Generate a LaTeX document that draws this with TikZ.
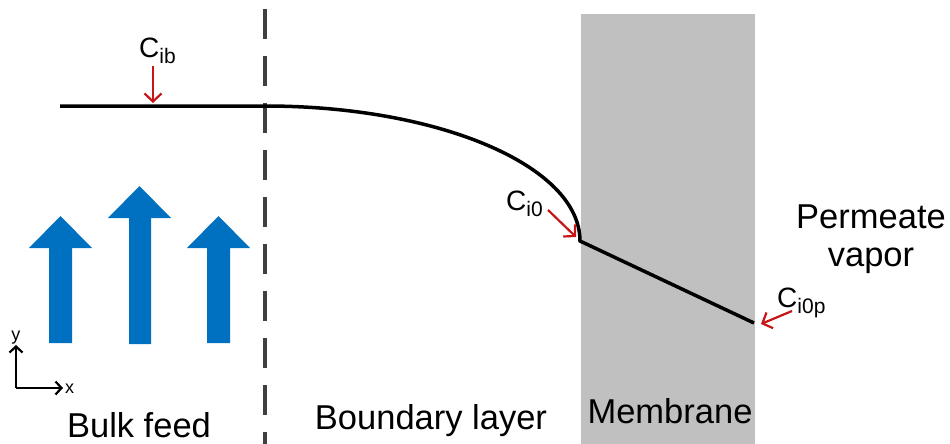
\documentclass[tikz,border=0pt]{standalone}
\usepackage{fontspec}
\setmainfont{Liberation Sans}
\usetikzlibrary{arrows.meta}
\definecolor{flowblue}{RGB}{0,112,192}
\definecolor{memgray}{RGB}{192,192,192}
\definecolor{dashgray}{RGB}{64,64,64}
\definecolor{lblred}{RGB}{200,20,20}
\tikzset{
  bigtext/.style={font=\fontsize{34.5}{40}\selectfont, inner sep=0pt},
  conclabel/.style={font=\fontsize{28}{30}\selectfont, inner sep=0pt, anchor=base west},
  redarrow/.style={draw=lblred, line width=2.2pt, -{Straight Barb[length=8pt,width=17pt,line width=2.2pt]}},
  flowarrow/.style={fill=flowblue, draw=none},
  profile/.style={line width=3.5pt, line join=miter},
  axisline/.style={line width=2.2pt, -{Straight Barb[length=6pt,width=13pt,line width=2.2pt]}},
}
\newcommand{\conc}[1]{C\raisebox{-6pt}{\fontsize{21}{21}\selectfont #1}}
\begin{document}
\begin{tikzpicture}[x=1pt,y=-1pt]
\useasboundingbox (0,0) rectangle (950,444);
% membrane
\fill[memgray] (581,14) rectangle (755,444);
% dashed separator
\draw[dashgray, line width=3.5pt, dash pattern=on 30pt off 17pt] (265,9) -- (265,444);
% blue flow arrows
\fill[flowblue] (49,343) -- (49,248) -- (29,248) -- (60.5,216) -- (92,248) -- (72,248) -- (72,343) -- cycle;
\fill[flowblue] (129,344) -- (129,218) -- (108,218) -- (139.5,186) -- (171,218) -- (151,218) -- (151,344) -- cycle;
\fill[flowblue] (207,343) -- (207,248) -- (187,248) -- (218.5,216) -- (250,248) -- (230,248) -- (230,343) -- cycle;
% concentration profile
\coordinate (p0) at (60,106);
\coordinate (p1) at (265,106);
\coordinate (p2) at (580,241);
\coordinate (p3) at (754,323);
\draw[profile] (p0) -- (p1) .. controls (439,106) and (580,166) .. (p2) -- (p3);
% labels with red arrows
\node[conclabel] (cib) at (139,57) {\conc{ib}};
\coordinate (cibend) at (153,103);
\draw[redarrow] (153,66) -- (cibend);
\node[conclabel] (ci0) at (506,210) {\conc{i0}};
\coordinate (ci0end) at (576,237);
\draw[redarrow] (548,210) -- (ci0end);
\node[conclabel] (ci0p) at (777,307) {\conc{i0p}};
\coordinate (ci0pend) at (761,324);
\draw[redarrow] (792,311) -- (ci0pend);
% axes
\coordinate (origin) at (16,388);
\coordinate (xend) at (63,388);
\coordinate (yend) at (16,345);
\draw[axisline] (origin) -- (xend);
\draw[axisline] (origin) -- (yend);
\node[font=\fontsize{18}{18}\selectfont, inner sep=0pt, anchor=base] (ylab) at (16,340) {y};
\node[font=\fontsize{18}{18}\selectfont, inner sep=0pt, anchor=west] (xlab) at (65,389) {x};
% region texts
\node[bigtext, anchor=base] (bulk) at (139,437) {Bulk feed};
\node[bigtext, anchor=base] (bl) at (431,429) {Boundary layer};
\node[bigtext, anchor=base] (mem) at (670,423) {Membrane};
\node[bigtext, anchor=base] (perm) at (871,228) {Permeate};
\node[bigtext, anchor=base] (vap) at (871,266) {vapor};
\end{tikzpicture}
\end{document}
